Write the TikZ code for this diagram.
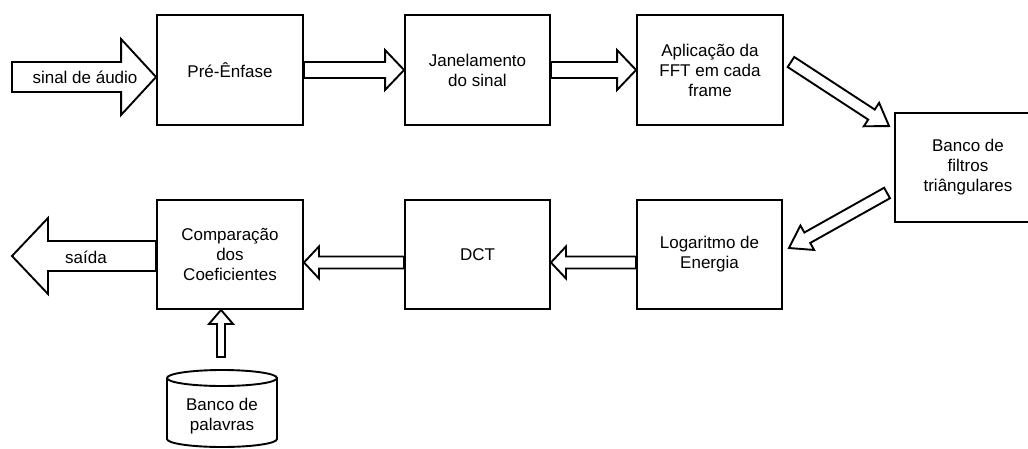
\documentclass[tikz,border=0pt]{standalone}
\usepackage{fontspec}
\setmainfont{Liberation Sans}
\usetikzlibrary{calc}

% seta larga: inicio, ponta, meia largura, meia cabeca, comprimento da cabeca
\newcommand{\fatarrow}[5]{%
  \coordinate (fa-h) at ($(#2)!#5!(#1)$);
  \draw[seta] ($(#1)!#3!90:(#2)$) -- ($(fa-h)!#3!90:(#2)$) -- ($(fa-h)!#4!90:(#2)$)
    -- (#2) -- ($(fa-h)!#4!-90:(#2)$) -- ($(fa-h)!#3!-90:(#2)$)
    -- ($(#1)!#3!-90:(#2)$) -- cycle;}

\begin{document}
\begin{tikzpicture}[x=1pt,y=-1pt,
  bloco/.style={draw, line width=1.9pt, minimum width=146pt, minimum height=110pt,
    align=center, inner sep=2pt, font=\fontsize{17}{20}\selectfont},
  seta/.style={draw, line width=1.9pt, line join=miter},
  rotulo/.style={align=center, inner sep=1pt, font=\fontsize{17}{20}\selectfont}]
\useasboundingbox (0,0) rectangle (1028,448);
\clip (0,0) rectangle (1028,448);
%
\node[bloco] (pre) at (230,70) {Pré-Ênfase};
\node[bloco, minimum width=145pt] (jan) at (477.5,70) {Janelamento\\do sinal};
\node[bloco] (fft) at (710,70) {Aplicação da\\FFT em cada\\frame};
\node[bloco, minimum height=109pt] (filt) at (968,167.5) {Banco de\\filtros\\triângulares};
\node[bloco, minimum height=109pt] (comp) at (230,254.5) {Comparação\\dos\\Coeficientes};
\node[bloco, minimum width=145pt, minimum height=109pt] (dct) at (477.5,254.5) {DCT};
\node[bloco, minimum width=145pt, minimum height=109pt] (logE) at (709.5,254.5) {Logaritmo de\\Energia};
%
\draw[seta] (167,378) -- (167,439)
  arc[start angle=180, end angle=360, x radius=55pt, y radius=8pt] -- (277,378);
\draw[seta] (222,378) ellipse[x radius=55pt, y radius=8pt];
\node[rotulo] (pal) at (222,416) {Banco de\\palavras};
%
\coordinate (in) at (12,77);
\coordinate (inTip) at (pre.west |- in);
\coordinate (out) at (12,256);
\coordinate (outStart) at (comp.west |- out);
\coordinate (cyl) at (221,357);
\coordinate (upTip) at ([xshift=-9pt]comp.south);
\coordinate (d1) at ($(fft.east)+(7,-8)$);
\coordinate (d2) at ($(filt.north west)+(-5,14)$);
\coordinate (d3) at ($(filt.west)+(-7,25.5)$);
\coordinate (d4) at ($(logE.east)+(6,-6.5)$);
\coordinate (l1) at ([yshift=-8pt]logE.west);
\coordinate (l2) at ([yshift=-8pt]dct.east);
\coordinate (l3) at ([yshift=-8pt]dct.west);
\coordinate (l4) at ([yshift=-8pt]comp.east);
%
\fatarrow{in}{inTip}{15pt}{38pt}{35pt}
\fatarrow{pre.east}{jan.west}{8pt}{20pt}{19pt}
\fatarrow{jan.east}{fft.west}{8pt}{20pt}{19pt}
\fatarrow{d1}{d2}{6pt}{14pt}{21pt}
\fatarrow{d3}{d4}{6pt}{14pt}{21pt}
\fatarrow{l1}{l2}{6pt}{16pt}{15pt}
\fatarrow{l3}{l4}{6pt}{16pt}{15pt}
\fatarrow{outStart}{out}{15pt}{38pt}{36pt}
\fatarrow{cyl}{upTip}{4pt}{12pt}{14pt}
%
\node[rotulo] (sinal) at (85,77) {sinal de áudio};
\node[rotulo] (saida) at (86,257) {saída};
\end{tikzpicture}
\end{document}
